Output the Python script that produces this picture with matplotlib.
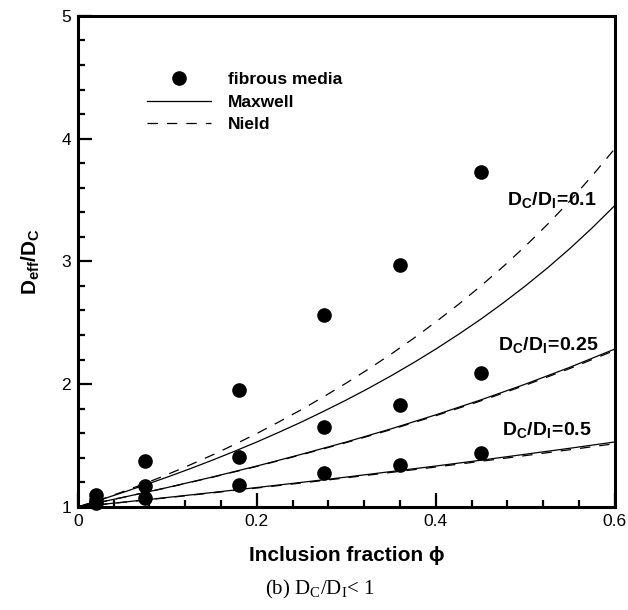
import matplotlib
matplotlib.use("Agg")
import matplotlib.pyplot as plt
from matplotlib.lines import Line2D
from matplotlib.ticker import MultipleLocator

plt.rcParams['font.family'] = ['Liberation Sans', 'DejaVu Sans']
plt.rcParams['mathtext.fontset'] = 'custom'
plt.rcParams['mathtext.rm'] = 'Liberation Serif'
plt.rcParams['mathtext.bf'] = 'Liberation Sans:bold'
plt.rcParams['mathtext.it'] = 'Liberation Sans:italic'
plt.rcParams['lines.scale_dashes'] = False

# ---- data ----
phi_pts = [0.02, 0.075, 0.18, 0.275, 0.36, 0.45]
fib_01 = [1.10, 1.37, 1.955, 2.56, 2.97, 3.73]
fib_025 = [1.06, 1.17, 1.405, 1.65, 1.83, 2.09]
fib_05 = [1.03, 1.076, 1.177, 1.275, 1.34, 1.44]

phi_fine = [0.0, 0.025, 0.05, 0.075, 0.10, 0.125, 0.15, 0.175, 0.20, 0.225, 0.25, 0.275,
            0.30, 0.325, 0.35, 0.375, 0.40, 0.425, 0.45, 0.475, 0.50, 0.525, 0.55, 0.575, 0.60]
maxwell_01 = [1.0, 1.057, 1.117, 1.179, 1.243, 1.310, 1.380, 1.453, 1.529, 1.609, 1.692, 1.780,
              1.871, 1.967, 2.068, 2.174, 2.286, 2.404, 2.528, 2.660, 2.800, 2.948, 3.106, 3.275, 3.455]
nield_01 = [1.0, 1.058, 1.123, 1.191, 1.264, 1.341, 1.422, 1.508, 1.598, 1.694, 1.793, 1.899,
            2.009, 2.124, 2.245, 2.372, 2.507, 2.648, 2.798, 2.956, 3.124, 3.303, 3.494, 3.700, 3.918]

phi_line = [0.0, 0.05, 0.10, 0.15, 0.20, 0.25, 0.30, 0.35, 0.40, 0.45, 0.50, 0.55, 0.60]
maxwell_025 = [1.0, 1.077, 1.158, 1.243, 1.333, 1.429, 1.529, 1.636, 1.750, 1.871, 2.000, 2.138, 2.286]
nield_025 = [1.0, 1.077, 1.157, 1.241, 1.330, 1.425, 1.524, 1.630, 1.743, 1.863, 1.991, 2.128, 2.275]
maxwell_05 = [1.0, 1.038, 1.077, 1.117, 1.158, 1.200, 1.243, 1.288, 1.333, 1.380, 1.429, 1.478, 1.529]
nield_05 = [1.0, 1.037, 1.075, 1.114, 1.154, 1.195, 1.237, 1.281, 1.325, 1.371, 1.418, 1.466, 1.515]

xticks = [0, 0.2, 0.4, 0.6]
xticklabels = ["0", "0.2", "0.4", "0.6"]
yticks = [1, 2, 3, 4, 5]
yticklabels = ["1", "2", "3", "4", "5"]

curve_labels = [r"$\mathbf{D_C/D_I\!=\!0.1}$", r"$\mathbf{D_C/D_I\!=\!0.25}$", r"$\mathbf{D_C/D_I\!=\!0.5}$"]
label_pos = [(0.480, 3.50), (0.469, 2.32), (0.474, 1.63)]

fig = plt.figure(figsize=(6.28, 6.10), dpi=100)
ax = fig.add_axes([0.124, 0.169, 0.855, 0.805])

lw = 0.9
dash = (0, (7.5, 6.5))
curves = [(phi_fine, maxwell_01, nield_01), (phi_line, maxwell_025, nield_025), (phi_line, maxwell_05, nield_05)]
for xs, m, n in curves:
    ax.plot(xs, m, color='black', lw=lw, solid_capstyle='butt')
    ax.plot(xs, n, color='black', lw=lw, linestyle=dash)

for ys in [fib_01, fib_025, fib_05]:
    ax.plot(phi_pts, ys, linestyle='none', marker='o', ms=9.5, color='black', clip_on=False, zorder=5)

for t, (x, y) in zip(curve_labels, label_pos):
    ax.text(x, y, t, fontsize=14, ha='left', va='center')

ax.set_xlim(0, 0.6)
ax.set_ylim(1, 5)
ax.set_xticks(xticks)
ax.set_xticklabels(xticklabels)
ax.set_yticks(yticks)
ax.set_yticklabels(yticklabels)
ax.xaxis.set_minor_locator(MultipleLocator(0.04))
ax.yaxis.set_minor_locator(MultipleLocator(0.2))
ax.tick_params(which='both', direction='in', top=False, right=False, labelsize=12.5, width=1.6)
ax.tick_params(which='major', length=10)
ax.tick_params(which='minor', length=5)
ax.tick_params(axis='x', pad=5)
ax.tick_params(axis='y', pad=5)
for s in ax.spines.values():
    s.set_linewidth(2.2)

ax.set_xlabel("Inclusion fraction ϕ", fontsize=15, fontweight='bold', labelpad=12)
ax.set_ylabel(r"$\mathbf{D_{eff}/D_C}$", fontsize=15, labelpad=14)

handles = [
    Line2D([], [], linestyle='none', marker='o', ms=9.5, color='black'),
    Line2D([], [], color='black', lw=lw),
    Line2D([], [], color='black', lw=lw, linestyle=dash),
]
leg = ax.legend(handles, ["fibrous media", "Maxwell", "Nield"], loc='upper left',
                bbox_to_anchor=(0.128, 0.885), frameon=False,
                handlelength=3.7, handletextpad=1.0, labelspacing=0.42,
                borderpad=0, borderaxespad=0, prop={'weight': 'bold', 'size': 12.5})

fig.text(0.51, 0.033, r"(b) D$_\mathrm{C}$/D$_\mathrm{I}$< 1", fontsize=15,
         family=['Liberation Serif', 'DejaVu Serif'], ha='center', va='center')

fig.savefig("out.png", dpi=100)
